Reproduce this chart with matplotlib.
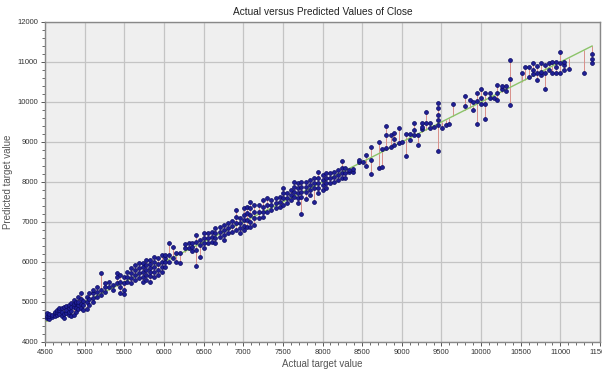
import matplotlib
matplotlib.use("Agg")
import matplotlib.pyplot as plt
from matplotlib.ticker import MultipleLocator
import numpy as np

# actual value of each column, and the predicted values stacked at that actual value
col_actual = [
    4520, 4550, 4590, 4620, 4650, 4680, 4710, 4740, 4770, 4800,
    4830, 4860, 4890, 4920, 4950, 4980, 5030, 5060, 5110, 5160,
    5210, 5260, 5310, 5360, 5410, 5450, 5500, 5540, 5580, 5630,
    5680, 5730, 5780, 5830, 5870, 5920, 5970, 6010, 6060, 6110,
    6150, 6200, 6260, 6310, 6350, 6410, 6460, 6500, 6550, 6600,
    6650, 6710, 6760, 6810, 6860, 6910, 6960, 7010, 7050, 7090,
    7140, 7200, 7250, 7300, 7350, 7410, 7460, 7500, 7550, 7600,
    7640, 7690, 7730, 7790, 7840, 7890, 7940, 8000, 8050, 8100,
    8150, 8190, 8240, 8290, 8340, 8390, 8460, 8510, 8550, 8610,
    8710, 8750, 8800, 8860, 8900, 8960, 9000, 9050, 9100, 9150,
    9200, 9250, 9310, 9360, 9400, 9460, 9510, 9560, 9600, 9650,
    9800, 9860, 9900, 9950, 10000, 10050, 10110, 10160, 10200, 10260,
    10310, 10360, 10510, 10560, 10600, 10660, 10710, 10750, 10800, 10860,
    10900, 10950, 11000, 11050, 11110, 11300, 11400,
]

col_predicted = [
    [4600, 4650, 4720], [4580, 4640, 4700], [4620, 4680], [4650, 4720, 4760],
    [4680, 4760, 4800], [4700, 4800, 4850], [4650, 4760, 4840], [4600, 4700, 4880],
    [4720, 4800, 4900], [4680, 4760, 4840, 4930],
    [4640, 4780, 4880, 4970], [4680, 4880, 4960, 5050], [4760, 4840, 4970, 5010],
    [4820, 4920, 5000, 5130], [4850, 4960, 5080, 5220], [4800, 4920, 5020],
    [4820, 5010, 5130], [4930, 5070, 5230], [5000, 5100, 5220, 5300], [5130, 5260, 5380],
    [5180, 5300, 5720], [5260, 5380, 5470], [5380, 5510], [5300, 5420],
    [5470, 5630, 5720], [5220, 5380, 5510, 5680], [5200, 5300, 5470, 5630],
    [5510, 5630, 5760], [5480, 5590, 5720, 5840], [5550, 5680, 5800, 5920],
    [5590, 5720, 5840, 5970], [5500, 5630, 5760, 5880, 5980], [5550, 5680, 5800, 5920, 6050],
    [5510, 5650, 5750, 5850, 5950, 6050], [5630, 5760, 5880, 6000, 6130],
    [5680, 5800, 5950, 6090], [5760, 5880, 6010, 6170], [5880, 6000, 6100, 6170],
    [6010, 6170, 6480], [6090, 6380],
    [6010, 6220], [5980, 6220], [6340, 6440], [6340, 6480], [6280, 6380, 6480],
    [5910, 6300, 6510, 6670], [6130, 6430, 6550], [6340, 6470, 6590, 6720],
    [6470, 6590, 6720], [6510, 6630, 6760],
    [6470, 6590, 6720, 6840], [6630, 6760, 6880], [6550, 6680, 6800, 6930],
    [6720, 6840, 6970], [6760, 6900, 7030], [6800, 6970, 7130, 7300],
    [6720, 6840, 6970, 7090], [6800, 6900, 7050, 7180, 7340], [6880, 7050, 7220, 7380],
    [6880, 7010, 7180, 7340, 7510],
    [6930, 7090, 7260, 7430], [7090, 7260, 7430], [7130, 7260, 7380, 7550],
    [7260, 7430, 7590], [7300, 7430, 7550], [7340, 7470, 7590], [7380, 7510, 7630],
    [7430, 7590, 7720, 7840], [7470, 7590, 7720], [7550, 7680, 7800],
    [7630, 7760, 7880, 8010], [7470, 7590, 7720, 7840, 7970], [7200, 7630, 7760, 7880, 8010],
    [7570, 7760, 7880, 8010], [7680, 7800, 7930, 8050], [7510, 7840, 7970, 8090],
    [7720, 7840, 7970, 8090, 8260], [7800, 7930, 8050, 8180], [7840, 7970, 8090, 8220],
    [7970, 8090, 8220],
    [8010, 8130, 8260], [8050, 8180, 8300], [8090, 8220, 8340, 8530], [8090, 8220, 8340],
    [8250, 8300], [8260, 8330], [8510, 8550], [8510], [8400, 8680], [8200, 8550, 8880],
    [8340, 9010], [8380, 8830], [8850, 9180, 9400], [8880, 9180], [8930, 9070, 9220],
    [8970, 9340], [9010], [8650, 9200], [9050, 9200], [9180, 9300, 9480],
    [8930, 9180], [9320, 9380, 9470], [9470, 9760], [9340, 9470], [9380],
    [8780, 9420, 9550, 9680, 9840, 9970], [9340], [9420], [9440], [9950],
    [9900, 10160], [10050], [9800, 10010], [9450, 10030, 10220], [9950, 10090, 10320],
    [9570, 9950, 10220], [10090, 10230], [10090], [10050, 10220, 10430], [10320, 10400],
    [10280, 10400], [9930, 10570, 11050], [10720], [10870], [10620, 10870],
    [10700, 10800, 10980], [10550, 10720, 10900], [10680, 10760, 10970],
    [10320, 10730, 10930], [10800, 10970],
    [10720, 11010], [10730, 10880, 11010], [10730, 10980, 11240], [10800, 10930, 11010],
    [10820], [10730], [10970, 11070, 11190],
]

x_ticks = [4500, 5000, 5500, 6000, 6500, 7000, 7500, 8000, 8500, 9000,
           9500, 10000, 10500, 11000, 11500]
y_ticks = [4000, 5000, 6000, 7000, 8000, 9000, 10000, 11000, 12000]

# flatten the columns into point pairs
actual = []
predicted = []
for a, preds in zip(col_actual, col_predicted):
    for p in preds:
        actual.append(a)
        predicted.append(p)
actual = np.array(actual)
predicted = np.array(predicted)

plt.rcParams['font.family'] = ['Liberation Sans', 'DejaVu Sans']

fig = plt.figure(figsize=(6.02, 3.74), dpi=100)
ax = fig.add_axes([45 / 602, 32 / 374, 555 / 602, 320 / 374])
ax.set_facecolor('#efefef')

# residual lines from the ideal line to each prediction
ax.vlines(actual, actual, predicted, colors='#d9908a', linewidth=0.7, zorder=2)
# ideal line (actual against actual)
line_x = np.sort(col_actual)
ax.plot(line_x, line_x, color='#8cc46a', linewidth=1.0, zorder=3)
ax.plot(actual, predicted, 'o', markersize=2.8, color='#1f1f96',
        markeredgecolor='#0a0a60', markeredgewidth=0.5, zorder=4)

ax.set_xlim(4500, 11500)
ax.set_ylim(4000, 12000)
ax.set_xticks(x_ticks)
ax.set_yticks(y_ticks)
ax.xaxis.set_minor_locator(MultipleLocator(100))
ax.yaxis.set_minor_locator(MultipleLocator(200))
ax.grid(True, which='major', color='#c4c4c4', linewidth=0.9)
ax.set_axisbelow(True)

tick_font = ['Liberation Sans Narrow', 'Liberation Sans', 'DejaVu Sans']
for lab in ax.get_xticklabels() + ax.get_yticklabels():
    lab.set_fontfamily(tick_font)
    lab.set_fontsize(5.5)
    lab.set_color('#333333')
ax.tick_params(which='major', length=3, width=0.7, color='#555555', pad=2)
ax.tick_params(which='minor', length=2, width=0.6, color='#555555')

for s in ax.spines.values():
    s.set_color('#888888')
    s.set_linewidth(1.0)

ax.set_xlabel('Actual target value', fontsize=7, color='#555555', labelpad=2)
ax.set_ylabel('Predicted target value', fontsize=7, color='#555555', labelpad=3)
ax.set_title('Actual versus Predicted Values of Close', fontsize=7.3, color='#222222', pad=5)

fig.savefig('out.png', dpi=100)
